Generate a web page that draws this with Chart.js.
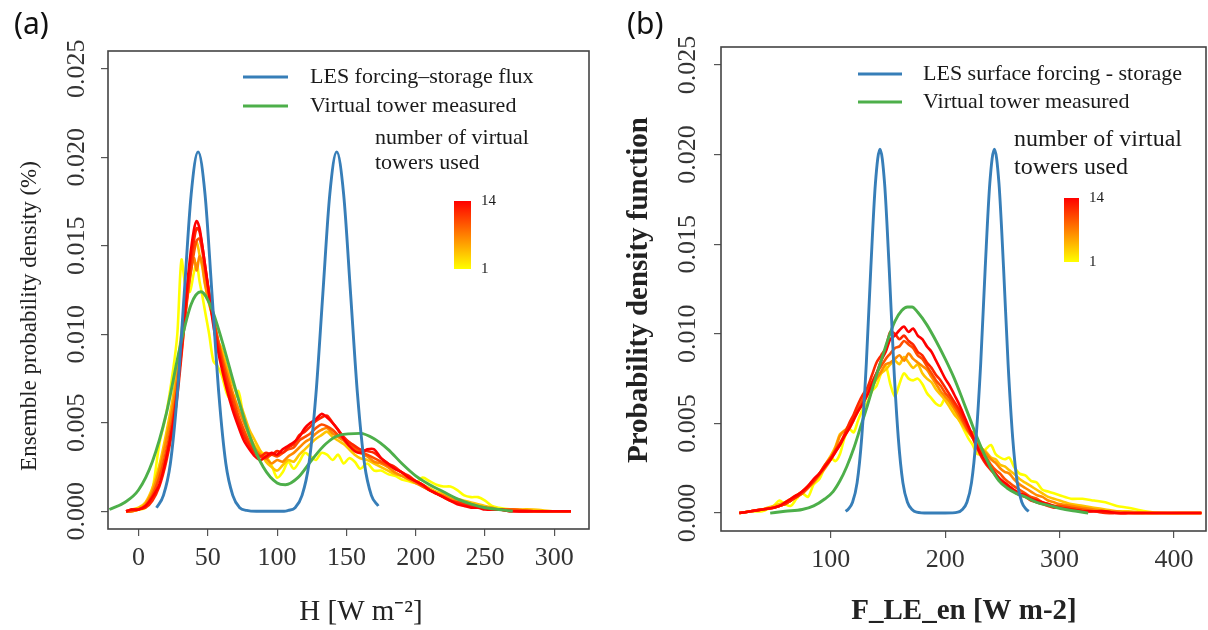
<!DOCTYPE html>
<html>
<head>
<meta charset="utf-8">
<script src="https://cdn.jsdelivr.net/npm/chart.js@4.4.1/dist/chart.umd.min.js"></script>
<style>
  html, body { margin: 0; padding: 0; background: #fff; }
  body { width: 1208px; height: 630px; position: relative; overflow: hidden; }
  .panel { position: absolute; top: 0; width: 604px; height: 630px; }
  .tag { position: absolute; top: 2px; font-family: 'Noto Sans', 'Liberation Sans', sans-serif; font-size: 30px; color: #111; }
</style>
</head>
<body>
<div class="panel" style="left:0"><canvas id="chartA" width="604" height="630"></canvas></div>
<div class="panel" style="left:604px"><canvas id="chartB" width="604" height="630"></canvas></div>
<div class="tag" style="left:14px">(a)</div>
<div class="tag" style="left:627px">(b)</div>
<script>
// number of virtual towers for each ensemble curve (yellow = 1 ... red = 14)
const towerCounts = [1, 4, 7, 10, 12, 14];
const yTicks = [0, 0.005, 0.010, 0.015, 0.020, 0.025];

// ---------- panel (a): H ----------
const xTicksA = [0, 50, 100, 150, 200, 250, 300];

const lesA_x = [13, 18, 23, 28, 33, 38, 43, 48, 53, 58, 63, 68, 73, 78, 85, 95, 105,
  108, 113, 118, 123, 128, 133, 138, 143, 148, 153, 158, 163, 168, 173];
const lesA_y = [0.0002, 0.0009, 0.0027, 0.0066, 0.0123, 0.0179, 0.0203, 0.0179, 0.0123, 0.0066, 0.0027, 0.0009, 0.0002, 0.00005, 0, 0, 0,
  0.00005, 0.0002, 0.0009, 0.0027, 0.0066, 0.0123, 0.0179, 0.0203, 0.0179, 0.0123, 0.0066, 0.0027, 0.0009, 0.0003];

const towerA_x = [-21, -10, 0, 10, 20, 30, 38, 45, 52, 60, 70, 80, 90, 100, 106, 115, 125, 135, 145, 160, 170, 180,
  190, 200, 210, 220, 230, 240, 250, 260, 270];
const towerA_y = [0.0001, 0.0005, 0.0012, 0.0028, 0.0055, 0.0093, 0.0117, 0.0124, 0.0116, 0.0097, 0.0069, 0.0043, 0.0025, 0.0016, 0.0015,
  0.0019, 0.0029, 0.0038, 0.0043, 0.0044, 0.0041, 0.0035, 0.0027, 0.0020, 0.0015, 0.0011, 0.0007, 0.0004, 0.0002, 0.0001, 0];

const ensA_x = [-9, -5, 0, 5, 10, 15, 20, 25, 28, 31, 34, 37, 40, 42, 44, 46, 48, 51, 54, 57,
  60, 64, 68, 72, 76, 80, 84, 88, 92, 96, 100, 104, 108, 112, 116, 120, 124, 128, 132, 136,
  140, 144, 148, 152, 156, 160, 165, 170, 175, 180, 185, 190, 195, 200, 205, 210, 215, 220, 225, 230,
  235, 240, 245, 250, 255, 260, 270, 285, 300, 312];
const ensA_1 = [0, 0, 0.0001, 0.0002, 0.0012, 0.0038, 0.0055, 0.0080, 0.0100, 0.0142,
  0.0127, 0.0124, 0.0135, 0.0140, 0.0130, 0.0122, 0.0113, 0.0100, 0.0085, 0.0082,
  0.0077, 0.0066, 0.0062, 0.0068, 0.0052, 0.0042, 0.0037, 0.0034, 0.0031, 0.0026,
  0.0019, 0.0022, 0.0028, 0.0024, 0.0028, 0.0033, 0.0031, 0.0029, 0.0033, 0.0032,
  0.0029, 0.0032, 0.0027, 0.0030, 0.0028, 0.0024, 0.0027, 0.0023, 0.0023, 0.0021,
  0.0020, 0.0018, 0.0017, 0.0016, 0.0019, 0.0017, 0.0015, 0.0014, 0.0014, 0.0012,
  0.0009, 0.0008, 0.0008, 0.0006, 0.0003, 0.0002, 0.0001, 0, 0, 0];
const ensA_4 = [0, 0.0001, 0.0002, 0.0005, 0.0013, 0.0026, 0.0044, 0.0065, 0.0082, 0.0101,
  0.0120, 0.0137, 0.0149, 0.0152, 0.0145, 0.0138, 0.0128, 0.0117, 0.0108, 0.0097,
  0.0092, 0.0081, 0.0072, 0.0064, 0.0055, 0.0046, 0.0040, 0.0034, 0.0028, 0.0025,
  0.0023, 0.0026, 0.0029, 0.0028, 0.0032, 0.0035, 0.0038, 0.0041, 0.0043, 0.0045,
  0.0042, 0.0040, 0.0038, 0.0035, 0.0032, 0.0030, 0.0029, 0.0027, 0.0025, 0.0023,
  0.0021, 0.0020, 0.0018, 0.0016, 0.0015, 0.0013, 0.0011, 0.0010, 0.0008, 0.0007,
  0.0006, 0.0005, 0.0004, 0.0003, 0.0002, 0.0001, 0.0001, 0.0001, 0, 0];
const ensA_7 = [0, 0, 0.0001, 0.0004, 0.0011, 0.0023, 0.0040, 0.0060, 0.0076, 0.0095,
  0.0114, 0.0132, 0.0143, 0.0136, 0.0144, 0.0140, 0.0129, 0.0118, 0.0108, 0.0098,
  0.0089, 0.0078, 0.0067, 0.0058, 0.0050, 0.0043, 0.0036, 0.0032, 0.0030, 0.0027,
  0.0029, 0.0028, 0.0031, 0.0033, 0.0036, 0.0039, 0.0041, 0.0044, 0.0046, 0.0047,
  0.0044, 0.0042, 0.0040, 0.0037, 0.0035, 0.0033, 0.0031, 0.0028, 0.0027, 0.0025,
  0.0022, 0.0020, 0.0018, 0.0016, 0.0014, 0.0012, 0.0010, 0.0009, 0.0007, 0.0006,
  0.0005, 0.0004, 0.0003, 0.0002, 0.0002, 0.0001, 0.0001, 0, 0, 0];
const ensA_10 = [0, 0, 0.0001, 0.0003, 0.0009, 0.0019, 0.0034, 0.0054, 0.0070, 0.0090,
  0.0112, 0.0131, 0.0146, 0.0153, 0.0154, 0.0147, 0.0137, 0.0123, 0.0110, 0.0098,
  0.0087, 0.0075, 0.0064, 0.0054, 0.0046, 0.0039, 0.0034, 0.0031, 0.0030, 0.0032,
  0.0031, 0.0033, 0.0035, 0.0036, 0.0040, 0.0042, 0.0044, 0.0047, 0.0049, 0.0048,
  0.0046, 0.0043, 0.0041, 0.0039, 0.0036, 0.0034, 0.0032, 0.0030, 0.0028, 0.0026,
  0.0024, 0.0022, 0.0019, 0.0017, 0.0014, 0.0012, 0.0010, 0.0008, 0.0006, 0.0005,
  0.0004, 0.0003, 0.0002, 0.0002, 0.0001, 0.0001, 0.0001, 0, 0, 0];
const ensA_12 = [0, 0.0001, 0.0001, 0.0002, 0.0006, 0.0014, 0.0028, 0.0048, 0.0065, 0.0088,
  0.0113, 0.0137, 0.0153, 0.0160, 0.0158, 0.0150, 0.0139, 0.0123, 0.0108, 0.0095,
  0.0084, 0.0071, 0.0060, 0.0051, 0.0043, 0.0037, 0.0033, 0.0031, 0.0033, 0.0032,
  0.0034, 0.0033, 0.0036, 0.0038, 0.0043, 0.0045, 0.0048, 0.0051, 0.0053, 0.0054,
  0.0050, 0.0046, 0.0042, 0.0039, 0.0037, 0.0035, 0.0034, 0.0033, 0.0030, 0.0027,
  0.0025, 0.0022, 0.0020, 0.0017, 0.0015, 0.0012, 0.0010, 0.0008, 0.0006, 0.0005,
  0.0004, 0.0003, 0.0002, 0.0002, 0.0001, 0.0001, 0, 0, 0, 0];
const ensA_14 = [0, 0.0001, 0.0001, 0.0003, 0.0008, 0.0015, 0.0030, 0.0050, 0.0068, 0.0092,
  0.0118, 0.0142, 0.0159, 0.0164, 0.0160, 0.0150, 0.0139, 0.0122, 0.0105, 0.0092,
  0.0081, 0.0068, 0.0057, 0.0048, 0.0040, 0.0035, 0.0031, 0.0029, 0.0031, 0.0033,
  0.0032, 0.0035, 0.0037, 0.0039, 0.0042, 0.0047, 0.0050, 0.0052, 0.0055, 0.0053,
  0.0050, 0.0046, 0.0041, 0.0037, 0.0034, 0.0033, 0.0035, 0.0035, 0.0030, 0.0027,
  0.0024, 0.0022, 0.0019, 0.0017, 0.0015, 0.0012, 0.0010, 0.0008, 0.0006, 0.0004,
  0.0003, 0.0002, 0.0002, 0.0001, 0.0001, 0.0001, 0, 0, 0, 0];

// ---------- panel (b): F_LE_en ----------
const xTicksB = [100, 200, 300, 400];

const lesB_x = [113, 115, 119, 123, 127, 131, 135, 139, 143, 147, 151, 155, 159, 163, 167, 171, 175, 185, 200,
  211, 215, 219, 223, 227, 231, 235, 239, 243, 247, 251, 255, 259, 263, 267, 271, 273];
const lesB_y = [0.0001, 0.0002, 0.0006, 0.0017, 0.0042, 0.0083, 0.0137, 0.0184, 0.0203, 0.0184, 0.0137, 0.0083, 0.0042, 0.0017, 0.0006, 0.0002, 0.00005, 0, 0,
  0.00005, 0.0002, 0.0006, 0.0017, 0.0042, 0.0083, 0.0137, 0.0184, 0.0203, 0.0184, 0.0137, 0.0083, 0.0042, 0.0017, 0.0006, 0.0002, 0.0001];

const towerB_x = [47, 60, 75, 85, 95, 102, 108, 114, 120, 126, 132, 138, 144, 150, 156, 162, 167, 171, 176, 184,
  192, 200, 208, 216, 222, 228, 234, 240, 247, 254, 262, 270, 280, 292, 305, 315, 325];
const towerB_y = [0, 0.0001, 0.0002, 0.0004, 0.0008, 0.0012, 0.0018, 0.0026, 0.0036, 0.0048, 0.0060, 0.0073, 0.0085, 0.0097, 0.0107,
  0.0113, 0.0115, 0.0115, 0.0112, 0.0105, 0.0096, 0.0086, 0.0075, 0.0062, 0.0052, 0.0042, 0.0033, 0.0025, 0.0018, 0.0014,
  0.0011, 0.0009, 0.0006, 0.0004, 0.0002, 0.0001, 0];

const ensB_x = [20, 30, 40, 50, 55, 60, 65, 70, 75, 80, 85, 90, 95, 100, 104, 108, 112, 116, 120, 124,
  128, 132, 136, 140, 144, 148, 152, 156, 160, 164, 168, 172, 176, 180, 184, 188, 192, 196, 200, 204,
  208, 212, 216, 220, 224, 228, 232, 236, 240, 244, 248, 252, 256, 260, 265, 270, 275, 280, 285, 290,
  295, 300, 310, 320, 330, 340, 350, 360, 375, 390, 410, 424];
const ensB_1 = [0, 0.0001, 0.0001, 0.0004, 0.0007, 0.0005, 0.0004, 0.0008, 0.0011, 0.0009,
  0.0016, 0.0019, 0.0026, 0.0031, 0.0029, 0.0033, 0.0042, 0.0047, 0.0045, 0.0052,
  0.0058, 0.0062, 0.0068, 0.0071, 0.0078, 0.0082, 0.0072, 0.0065, 0.0072, 0.0078,
  0.0075, 0.0074, 0.0075, 0.0072, 0.0067, 0.0064, 0.0061, 0.0060, 0.0064, 0.0060,
  0.0056, 0.0052, 0.0047, 0.0042, 0.0038, 0.0033, 0.0033, 0.0036, 0.0038, 0.0033,
  0.0031, 0.0030, 0.0031, 0.0026, 0.0022, 0.0021, 0.0018, 0.0017, 0.0013, 0.0012,
  0.0011, 0.0010, 0.0008, 0.0008, 0.0007, 0.0006, 0.0004, 0.0003, 0.0001, 0, 0, 0];
const ensB_4 = [0, 0.0001, 0.0002, 0.0004, 0.0005, 0.0006, 0.0008, 0.0010, 0.0012, 0.0015,
  0.0018, 0.0022, 0.0027, 0.0032, 0.0037, 0.0044, 0.0046, 0.0049, 0.0054, 0.0058,
  0.0063, 0.0067, 0.0071, 0.0075, 0.0078, 0.0080, 0.0083, 0.0085, 0.0083, 0.0087,
  0.0084, 0.0081, 0.0083, 0.0078, 0.0075, 0.0073, 0.0069, 0.0066, 0.0063, 0.0059,
  0.0055, 0.0052, 0.0048, 0.0045, 0.0042, 0.0039, 0.0036, 0.0034, 0.0031, 0.0030,
  0.0027, 0.0026, 0.0024, 0.0022, 0.0019, 0.0017, 0.0015, 0.0013, 0.0011, 0.0009,
  0.0008, 0.0007, 0.0005, 0.0004, 0.0003, 0.0002, 0.0001, 0.0001, 0, 0, 0, 0];
const ensB_7 = [0, 0.0001, 0.0002, 0.0003, 0.0004, 0.0005, 0.0007, 0.0009, 0.0011, 0.0014,
  0.0017, 0.0021, 0.0025, 0.0030, 0.0036, 0.0043, 0.0046, 0.0047, 0.0052, 0.0057,
  0.0061, 0.0066, 0.0070, 0.0075, 0.0079, 0.0083, 0.0084, 0.0086, 0.0088, 0.0085,
  0.0089, 0.0086, 0.0084, 0.0082, 0.0080, 0.0076, 0.0072, 0.0068, 0.0065, 0.0062,
  0.0058, 0.0054, 0.0050, 0.0046, 0.0045, 0.0040, 0.0036, 0.0033, 0.0030, 0.0028,
  0.0025, 0.0023, 0.0022, 0.0019, 0.0016, 0.0014, 0.0012, 0.0010, 0.0009, 0.0007,
  0.0006, 0.0005, 0.0004, 0.0003, 0.0002, 0.0001, 0.0001, 0, 0, 0, 0, 0];
const ensB_10 = [0, 0.0001, 0.0002, 0.0003, 0.0004, 0.0005, 0.0007, 0.0009, 0.0011, 0.0014,
  0.0018, 0.0022, 0.0026, 0.0030, 0.0034, 0.0038, 0.0043, 0.0048, 0.0054, 0.0058,
  0.0063, 0.0068, 0.0073, 0.0078, 0.0082, 0.0086, 0.0089, 0.0092, 0.0093, 0.0096,
  0.0094, 0.0092, 0.0088, 0.0086, 0.0082, 0.0078, 0.0074, 0.0071, 0.0067, 0.0064,
  0.0060, 0.0056, 0.0051, 0.0046, 0.0042, 0.0038, 0.0034, 0.0031, 0.0027, 0.0024,
  0.0022, 0.0019, 0.0017, 0.0015, 0.0013, 0.0011, 0.0009, 0.0008, 0.0006, 0.0005,
  0.0004, 0.0004, 0.0003, 0.0002, 0.0001, 0.0001, 0, 0, 0, 0, 0, 0];
const ensB_12 = [0, 0.0001, 0.0002, 0.0003, 0.0004, 0.0005, 0.0007, 0.0009, 0.0012, 0.0015,
  0.0018, 0.0022, 0.0027, 0.0031, 0.0035, 0.0039, 0.0044, 0.0050, 0.0055, 0.0061,
  0.0066, 0.0070, 0.0077, 0.0084, 0.0088, 0.0092, 0.0101, 0.0100, 0.0097, 0.0099,
  0.0096, 0.0094, 0.0090, 0.0088, 0.0084, 0.0081, 0.0077, 0.0074, 0.0070, 0.0066,
  0.0062, 0.0058, 0.0053, 0.0048, 0.0042, 0.0036, 0.0031, 0.0027, 0.0024, 0.0021,
  0.0018, 0.0016, 0.0014, 0.0012, 0.0010, 0.0009, 0.0007, 0.0006, 0.0005, 0.0004,
  0.0003, 0.0003, 0.0002, 0.0001, 0.0001, 0, 0, 0, 0, 0, 0, 0];
const ensB_14 = [0, 0.0001, 0.0002, 0.0003, 0.0004, 0.0006, 0.0008, 0.0010, 0.0012, 0.0015,
  0.0019, 0.0022, 0.0026, 0.0030, 0.0034, 0.0038, 0.0043, 0.0047, 0.0052, 0.0057,
  0.0061, 0.0066, 0.0072, 0.0078, 0.0085, 0.0090, 0.0097, 0.0099, 0.0102, 0.0104,
  0.0101, 0.0103, 0.0099, 0.0097, 0.0093, 0.0090, 0.0085, 0.0080, 0.0075, 0.0071,
  0.0066, 0.0061, 0.0055, 0.0049, 0.0043, 0.0037, 0.0032, 0.0028, 0.0025, 0.0022,
  0.0019, 0.0017, 0.0015, 0.0013, 0.0011, 0.0010, 0.0008, 0.0007, 0.0006, 0.0005,
  0.0004, 0.0003, 0.0002, 0.0001, 0.0001, 0.0001, 0, 0, 0, 0, 0, 0];

const SERIF = "'Liberation Serif', 'Times New Roman', serif";
const BLUE = '#377EB8';
const GREEN = '#4DAF4A';
const AXIS = '#555';

function rampColor(n) {
  const g = Math.round(255 * (14 - n) / 13);
  return 'rgb(255,' + g + ',0)';
}

function pts(xs, ys) {
  return xs.map((x, i) => ({ x: x, y: ys[i] }));
}

function buildDatasets(lesX, lesY, towerX, towerY, ensX, ens) {
  const sets = [
    { label: 'LES', data: pts(lesX, lesY), borderColor: BLUE, borderWidth: 2.9, cubicInterpolationMode: 'monotone' },
    { label: 'tower', data: pts(towerX, towerY), borderColor: GREEN, borderWidth: 2.9, cubicInterpolationMode: 'monotone' }
  ];
  // first dataset is drawn on top, so red (14) goes before yellow (1)
  for (let i = towerCounts.length - 1; i >= 0; i--) {
    sets.push({
      label: towerCounts[i] + ' towers',
      data: pts(ensX, ens[i]),
      borderColor: rampColor(towerCounts[i]),
      borderWidth: 2.6,
      tension: 0.3
    });
  }
  return sets;
}

function drawText(ctx, t, rotate) {
  ctx.save();
  ctx.translate(t.x, t.y);
  if (rotate) ctx.rotate(-Math.PI / 2);
  ctx.textAlign = 'center';
  ctx.textBaseline = 'middle';
  ctx.fillStyle = '#222';
  ctx.font = (t.bold ? 'bold ' : '') + t.size + 'px ' + SERIF;
  ctx.fillText(t.text, 0, 0);
  ctx.restore();
}

const panelDecor = {
  id: 'panelDecor',
  afterDraw(chart, args, opts) {
    const ctx = chart.ctx;
    const a = chart.chartArea;
    ctx.save();
    ctx.strokeStyle = '#444';
    ctx.lineWidth = 1.6;
    ctx.strokeRect(a.left, a.top, a.right - a.left, a.bottom - a.top);

    // axis titles
    drawText(ctx, opts.xTitle, false);
    drawText(ctx, opts.yTitle, true);

    ctx.textAlign = 'left';
    ctx.textBaseline = 'middle';
    ctx.fillStyle = '#1a1a1a';
    ctx.font = opts.size + 'px ' + SERIF;
    opts.rows.forEach(r => {
      ctx.strokeStyle = r.color;
      ctx.lineWidth = 3;
      ctx.beginPath();
      ctx.moveTo(opts.lineX[0], r.y);
      ctx.lineTo(opts.lineX[1], r.y);
      ctx.stroke();
      ctx.fillText(r.text, opts.textX, r.y);
    });

    ctx.font = opts.noteSize + 'px ' + SERIF;
    opts.note.forEach((s, i) => ctx.fillText(s, opts.noteX, opts.noteY[i]));

    const b = opts.bar;
    const grad = ctx.createLinearGradient(0, b.y + b.h, 0, b.y);
    grad.addColorStop(0, rampColor(towerCounts[0]));
    grad.addColorStop(1, rampColor(towerCounts[towerCounts.length - 1]));
    ctx.fillStyle = grad;
    ctx.fillRect(b.x, b.y, b.w, b.h);
    ctx.fillStyle = '#1a1a1a';
    ctx.font = '15px ' + SERIF;
    ctx.fillText(String(towerCounts[towerCounts.length - 1]), b.x + b.w + 10, b.y);
    ctx.fillText(String(towerCounts[0]), b.x + b.w + 10, b.y + b.h);
    ctx.restore();
  }
};

function makeScales(p) {
  const gridOpts = { display: true, drawOnChartArea: false, drawTicks: true, tickLength: 7, color: AXIS, lineWidth: 1.2 };
  return {
    x: {
      type: 'linear', min: p.xMin, max: p.xMax,
      afterBuildTicks: s => { s.ticks = p.xTicks.map(v => ({ value: v })); },
      afterFit: s => { s.height = p.xHeight; },
      grid: gridOpts,
      border: { display: false },
      ticks: { font: { family: SERIF, size: 26 }, color: '#333', padding: 7, maxRotation: 0, autoSkip: false,
        callback: v => String(v) }
    },
    y: {
      type: 'linear', min: -0.001, max: 0.026,
      afterBuildTicks: s => { s.ticks = yTicks.map(v => ({ value: v })); },
      afterFit: s => { s.width = p.yWidth; },
      grid: gridOpts,
      border: { display: false },
      ticks: { font: { family: SERIF, size: 26 }, color: '#333', padding: p.yTickPad, minRotation: 90, maxRotation: 90,
        crossAlign: 'center', autoSkip: false, callback: v => v.toFixed(3) }
    }
  };
}

function makeChart(id, datasets, p, decor) {
  return new Chart(document.getElementById(id), {
    type: 'line',
    data: { datasets: datasets },
    options: {
      responsive: false,
      animation: false,
      devicePixelRatio: 1,
      layout: { padding: { left: 0, top: p.top, right: p.right, bottom: 0 } },
      elements: { point: { radius: 0 } },
      scales: makeScales(p),
      plugins: {
        legend: { display: false },
        tooltip: { enabled: false },
        panelDecor: decor
      }
    },
    plugins: [panelDecor]
  });
}

makeChart('chartA',
  buildDatasets(lesA_x, lesA_y, towerA_x, towerA_y, ensA_x, [ensA_1, ensA_4, ensA_7, ensA_10, ensA_12, ensA_14]),
  { xMin: -22, xMax: 325, xTicks: xTicksA, yWidth: 108, xHeight: 101, top: 51, right: 15, yTickPad: -5 },
  { xTitle: { text: 'H [W m⁻²]', x: 361, y: 612, size: 29, bold: false },
    yTitle: { text: 'Ensemble probability density (%)', x: 30, y: 316, size: 23, bold: false },
    size: 22, lineX: [243, 288], textX: 310,
    rows: [{ y: 77, color: BLUE, text: 'LES forcing–storage flux' }, { y: 106, color: GREEN, text: 'Virtual tower measured' }],
    noteSize: 22, noteX: 375, noteY: [138, 163], note: ['number of virtual', 'towers used'],
    bar: { x: 454, y: 201, w: 17, h: 68 } });

makeChart('chartB',
  buildDatasets(lesB_x, lesB_y, towerB_x, towerB_y, ensB_x, [ensB_1, ensB_4, ensB_7, ensB_10, ensB_12, ensB_14]),
  { xMin: 4, xMax: 428, xTicks: xTicksB, yWidth: 117, xHeight: 99, top: 47, right: 2, yTickPad: -3 },
  { xTitle: { text: 'F_LE_en [W m-2]', x: 360, y: 612, size: 29, bold: true },
    yTitle: { text: 'Probability density function', x: 36, y: 290, size: 29, bold: true },
    size: 22, lineX: [254, 298], textX: 319,
    rows: [{ y: 74, color: BLUE, text: 'LES surface forcing - storage' }, { y: 102, color: GREEN, text: 'Virtual tower measured' }],
    noteSize: 24, noteX: 410, noteY: [140, 168], note: ['number of virtual', 'towers used'],
    bar: { x: 460, y: 198, w: 15, h: 64 } });
</script>
</body>
</html>
